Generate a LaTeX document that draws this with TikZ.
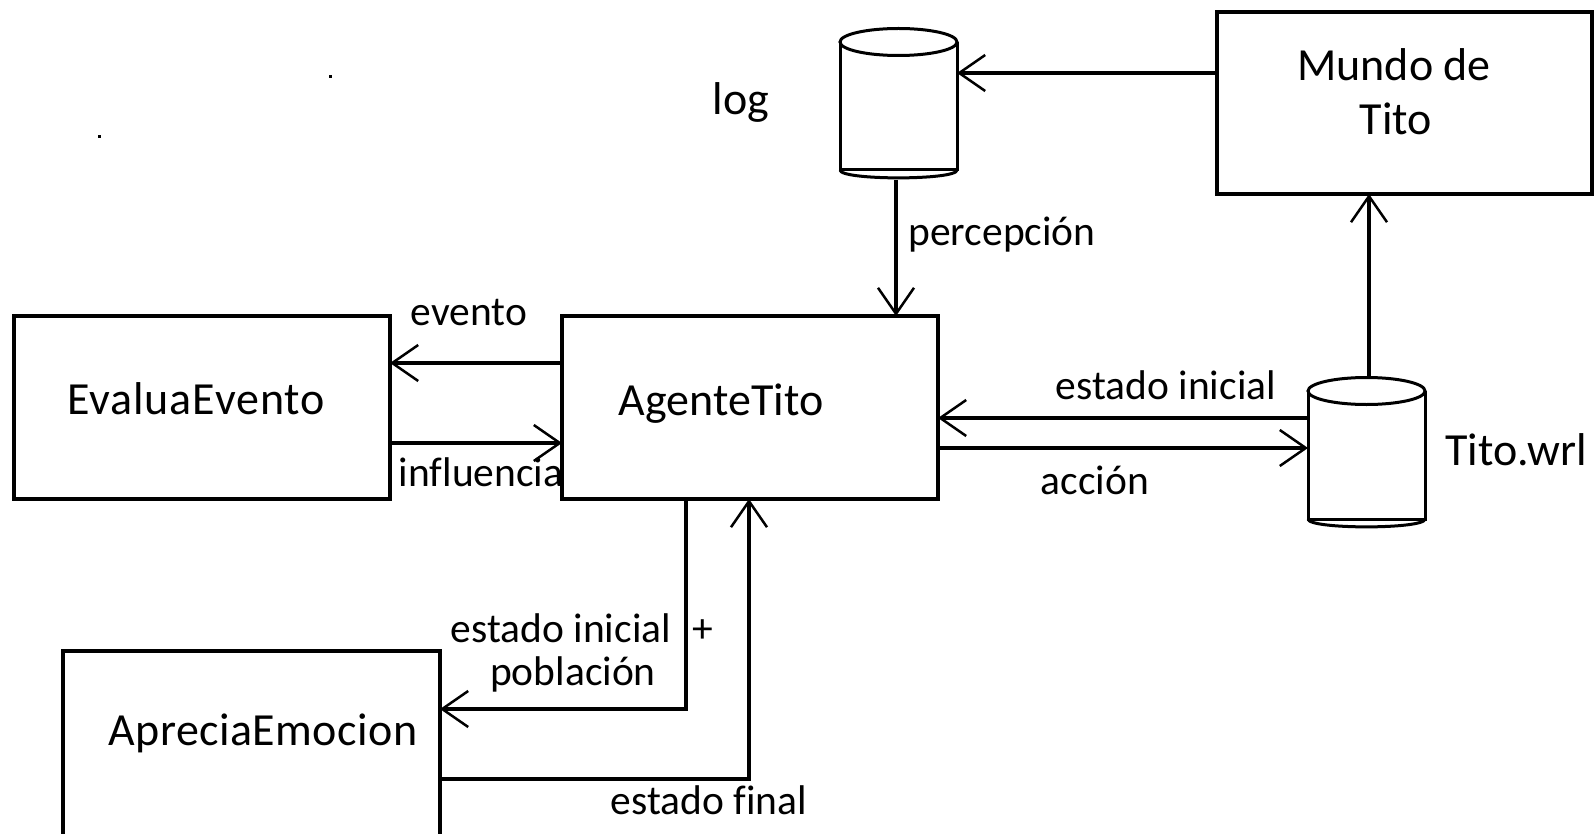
\documentclass[tikz,border=0pt]{standalone}
\usepackage{fontspec}
\setmainfont{Carlito}[Ligatures=NoCommon]
\usetikzlibrary{arrows.meta}
\tikzset{
  box/.style={draw, line width=4pt, rectangle, inner sep=0pt, outer sep=0pt},
  anchorbox/.style={draw=none, rectangle, inner sep=0pt, outer sep=0pt},
  cyl/.style={line width=3pt},
  arr/.style={line width=3.5pt, -{Straight Barb[length=26pt,width=36pt,line width=2.5pt]}},
  big/.style={font=\fontsize{46}{54}\selectfont, anchor=base, inner sep=0pt},
  lbl/.style={font=\fontsize{41.5}{45}\selectfont, anchor=base, inner sep=0pt},
}
\begin{document}
\begin{tikzpicture}[x=1pt,y=-1pt]
\useasboundingbox (0,0) rectangle (1594,834);
\clip (0,0) rectangle (1594,834);
\fill[white] (0,0) rectangle (1594,834);

% stray dots
\fill (328.5,75.5) rectangle (331.5,78.5);
\fill (97.5,135.5) rectangle (100.5,138.5);

% boxes
\node[box, minimum width=376pt, minimum height=183pt] (eval) at (202,407.5) {};
\node[box, minimum width=376pt, minimum height=183pt] (agente) at (750,407.5) {};
\node[box, minimum width=377pt, minimum height=200pt] (aprecia) at (251.5,751) {};
\node[box, minimum width=375pt, minimum height=182pt] (mundo) at (1404.5,103) {};

% box texts
\node[big] (evalT) at (196,414) {\addfontfeature{LetterSpace=2}EvaluaEvento};
\node[big] (agenteT) at (721,415) {AgenteTito};
\node[big] (apreciaT) at (263,745) {\addfontfeature{LetterSpace=1}ApreciaEmocion};
\node[big] (mundoT1) at (1394,81) {Mundo de};
\node[big] (mundoT2) at (1396,135) {Tito};

% cylinders (anchor nodes)
\node[anchorbox, minimum width=117pt, minimum height=152pt] (logc) at (898.5,104) {};
\node[anchorbox, minimum width=117pt, minimum height=150pt] (wrl) at (1366.5,452) {};

% log cylinder
\draw[cyl] (898.5,42) ellipse [x radius=58.5pt, y radius=13.5pt];
\draw[cyl] (840,42) -- (840,170) -- (957,170) -- (957,42);
\draw[cyl] (840,170) .. controls (840,180.5) and (957,180.5) .. (957,170);
% Tito.wrl cylinder
\draw[cyl] (1366.5,391) ellipse [x radius=58.5pt, y radius=13.5pt];
\draw[cyl] (1308,391) -- (1308,519) -- (1425,519) -- (1425,391);
\draw[cyl] (1308,519) .. controls (1308,529.5) and (1425,529.5) .. (1425,519);

\node[big] (logT) at (741,115) {log};
\node[big] (wrlT) at (1516,465) {Tito.wrl};

% connectors
\draw[arr] (mundo.west |- 0,73) -- (logc.east |- 0,73);
\draw[arr] (logc.south -| 896,0) -- (agente.north -| 896,0);
\draw[arr] (wrl.north -| 1369,0) -- (mundo.south -| 1369,0);
\draw[arr] (agente.west |- 0,363) -- (eval.east |- 0,363);
\draw[arr] (eval.east |- 0,443) -- (agente.west |- 0,443);
\draw[arr] (wrl.west |- 0,418) -- (agente.east |- 0,418);
\draw[arr] (agente.east |- 0,448) -- (wrl.west |- 0,448);
\draw[arr] (agente.south -| 686,0) |- (aprecia.east |- 0,709);
\draw[arr] (aprecia.east |- 0,779) -| (agente.south -| 749,0);

% labels
\node[lbl] (percT) at (1002,246) {percepción};
\node[lbl] (eventoT) at (469,325) {evento};
\node[lbl] (inflT) at (481,486) {influencia};
\node[lbl] (eiT) at (1166,399) {estado inicial};
\node[lbl] (accT) at (1095,494) {acción};
\node[lbl] (ei2T) at (561,642) {estado inicial};
\node[lbl] (plusT) at (703,642) {+};
\node[lbl] (pobT) at (573,685) {población};
\node[lbl] (efT) at (709,814) {estado final};
\end{tikzpicture}
\end{document}
